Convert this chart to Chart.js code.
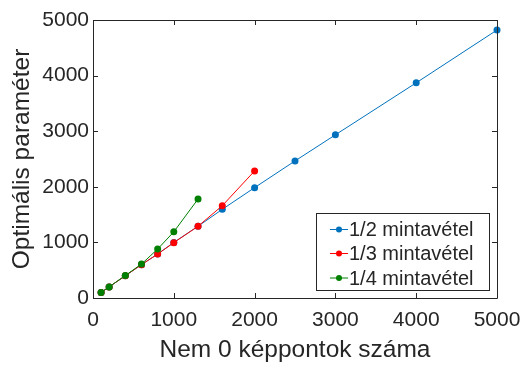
<!DOCTYPE html>
<html>
<head>
<meta charset="utf-8">
<script src="https://cdn.jsdelivr.net/npm/chart.js@4/dist/chart.umd.min.js"></script>
<style>
html,body{margin:0;padding:0;background:#fff;}
#wrap{width:526px;height:365px;position:relative;}
</style>
</head>
<body>
<div id="wrap"><canvas id="c" width="526" height="365"></canvas></div>
<script>
const seriesNames = ['1/2 mintavétel', '1/3 mintavétel', '1/4 mintavétel'];
const xHalf = [100, 200, 400, 600, 800, 1000, 1300, 1600, 2000, 2500, 3000, 4000, 5000];
const yHalf = [100, 200, 400, 600, 790, 1000, 1290, 1595, 1985, 2465, 2935, 3870, 4820];
const xThird = [100, 200, 400, 600, 800, 1000, 1300, 1600, 2000];
const yThird = [100, 200, 400, 600, 790, 995, 1290, 1660, 2285];
const xQuarter = [100, 200, 400, 600, 800, 1000, 1300];
const yQuarter = [100, 200, 405, 610, 880, 1190, 1780];
const xTicks = [0, 1000, 2000, 3000, 4000, 5000];
const yTicks = [0, 1000, 2000, 3000, 4000, 5000];
const xTitle = 'Nem 0 képpontok száma';
const yTitle = 'Optimális paraméter';

const colors = ['#0072BD', '#FF0000', '#008000'];
const textColor = '#262626';
const FONT = 'Liberation Sans, Arial, sans-serif';

function pts(xs, ys) { return xs.map((x, i) => ({x: x, y: ys[i]})); }

function ds(label, data, color, order) {
  return {
    label: label, data: data, showLine: true,
    borderColor: color, backgroundColor: color,
    borderWidth: 1, pointRadius: 3.5, pointHoverRadius: 3.5,
    pointBorderWidth: 0, order: order, clip: false
  };
}

const framePlugin = {
  id: 'frame',
  afterDatasetsDraw(chart) {
    const {ctx, chartArea: a, scales} = chart;
    ctx.save();
    ctx.strokeStyle = textColor;
    ctx.lineWidth = 1;
    ctx.beginPath();
    ctx.rect(Math.round(a.left) + 0.5, Math.round(a.top) + 0.5, Math.round(a.right - a.left), Math.round(a.bottom - a.top));
    ctx.stroke();
    const tl = 5;
    ctx.beginPath();
    xTicks.forEach(v => {
      const px = Math.round(scales.x.getPixelForValue(v)) + 0.5;
      ctx.moveTo(px, a.bottom); ctx.lineTo(px, a.bottom - tl);
      ctx.moveTo(px, a.top); ctx.lineTo(px, a.top + tl);
    });
    yTicks.forEach(v => {
      const py = Math.round(scales.y.getPixelForValue(v)) + 0.5;
      ctx.moveTo(a.left, py); ctx.lineTo(a.left + tl, py);
      ctx.moveTo(a.right, py); ctx.lineTo(a.right - tl, py);
    });
    ctx.stroke();
    ctx.restore();
  },
  afterDraw(chart) {
    const {ctx} = chart;
    ctx.save();
    const bx = 316.5, by = 213.5, bw = 173, bh = 77;
    ctx.fillStyle = '#fff';
    ctx.fillRect(bx, by, bw, bh);
    ctx.strokeStyle = textColor;
    ctx.lineWidth = 1;
    ctx.strokeRect(bx, by, bw, bh);
    ctx.font = '20px ' + FONT;
    ctx.textBaseline = 'middle';
    ctx.textAlign = 'left';
    const ys = [229.5, 253.5, 278];
    seriesNames.forEach((name, i) => {
      const y = ys[i];
      ctx.strokeStyle = colors[i];
      ctx.fillStyle = colors[i];
      ctx.beginPath();
      ctx.moveTo(330, y); ctx.lineTo(348, y);
      ctx.stroke();
      ctx.beginPath();
      ctx.arc(339, y, 3, 0, Math.PI * 2);
      ctx.fill();
      ctx.fillStyle = textColor;
      ctx.fillText(name, 349, y + 1);
    });
    ctx.restore();
  }
};

new Chart(document.getElementById('c'), {
  type: 'scatter',
  data: {
    datasets: [
      ds(seriesNames[0], pts(xHalf, yHalf), colors[0], 3),
      ds(seriesNames[1], pts(xThird, yThird), colors[1], 2),
      ds(seriesNames[2], pts(xQuarter, yQuarter), colors[2], 1)
    ]
  },
  options: {
    responsive: false,
    animation: false,
    devicePixelRatio: 1,
    layout: {padding: {top: 20, right: 29, left: 0, bottom: 0}},
    plugins: {legend: {display: false}, tooltip: {enabled: false}},
    scales: {
      x: {
        type: 'linear', min: 0, max: 5000,
        afterBuildTicks: s => { s.ticks = xTicks.map(v => ({value: v})); },
        afterFit: s => { s.height = 67; s.paddingLeft = 0; s.paddingRight = 0; },
        grid: {display: false, drawTicks: false},
        border: {display: false},
        ticks: {color: textColor, font: {family: FONT, size: 21}, padding: 10, maxRotation: 0, autoSkip: false, callback: v => String(v)},
        title: {display: true, text: xTitle, color: textColor, font: {family: FONT, size: 24.5}, padding: {top: 0, bottom: 0}}
      },
      y: {
        type: 'linear', min: 0, max: 5000,
        afterBuildTicks: s => { s.ticks = yTicks.map(v => ({value: v})); },
        afterFit: s => { s.width = 93; s.paddingTop = 0; s.paddingBottom = 0; },
        grid: {display: false, drawTicks: false},
        border: {display: false},
        ticks: {color: textColor, font: {family: FONT, size: 21}, padding: 4, autoSkip: false, callback: v => String(v)},
        title: {display: true, text: yTitle, color: textColor, font: {family: FONT, size: 24.5}, padding: {top: 8, bottom: 0}}
      }
    }
  },
  plugins: [framePlugin]
});
</script>
</body>
</html>
